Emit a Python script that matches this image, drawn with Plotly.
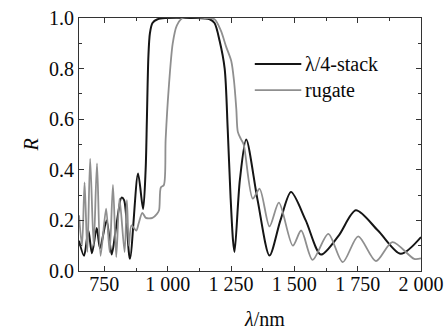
import plotly.graph_objects as go

# Reflectance spectra: quarter-wave stack vs. rugate filter
stack_wl = [650, 670, 687, 701, 720, 733, 759, 779, 796, 818, 828, 851, 883, 903,
            913, 918, 924, 930, 940, 960, 990, 1100, 1166, 1185, 1205, 1225, 1237,
            1248, 1258, 1264, 1285, 1310, 1355, 1402, 1445, 1487, 1545, 1605,
            1675, 1743, 1830, 1920, 2000]
stack_R = [0.12, 0.06, 0.16, 0.07, 0.17, 0.09, 0.20, 0.065, 0.17, 0.29, 0.28, 0.048,
           0.385, 0.245, 0.40, 0.60, 0.85, 0.94, 0.98, 0.995, 1.0, 1.0, 0.995, 0.98,
           0.91, 0.80, 0.56, 0.30, 0.12, 0.075, 0.36, 0.52, 0.28, 0.061, 0.20, 0.312,
           0.20, 0.065, 0.14, 0.24, 0.16, 0.068, 0.134]

rugate_wl = [650, 662, 672, 683, 694, 708, 721, 735, 757, 771, 784, 797, 810, 830,
             839, 847, 857, 876, 886, 900, 914, 940, 957, 966, 973, 985, 992, 1004,
             1020, 1036, 1059, 1150, 1185, 1210, 1231, 1251, 1262, 1271, 1277, 1290,
             1300, 1336, 1363, 1402, 1439, 1494, 1527, 1572, 1634, 1691, 1752, 1822,
             1887, 1973, 2000]
rugate_R = [0.22, 0.10, 0.35, 0.075, 0.444, 0.10, 0.425, 0.06, 0.246, 0.075, 0.34,
            0.055, 0.286, 0.075, 0.28, 0.10, 0.18, 0.16, 0.19, 0.23, 0.21, 0.21, 0.225,
            0.24, 0.33, 0.34, 0.52, 0.72, 0.90, 0.97, 1.0, 1.0, 0.995, 0.95, 0.886, 0.83,
            0.75, 0.64, 0.55, 0.52, 0.50, 0.286, 0.325, 0.176, 0.27, 0.10, 0.16, 0.044,
            0.147, 0.035, 0.137, 0.039, 0.114, 0.048, 0.05]

x_ticks = [750, 1000, 1250, 1500, 1750, 2000]
x_ticktext = ["750", "1 000", "1 250", "1 500", "1 750", "2 000"]
y_ticks = [0.0, 0.2, 0.4, 0.6, 0.8, 1.0]
y_ticktext = ["0.0", "0.2", "0.4", "0.6", "0.8", "1.0"]

series_names = ["\u03bb/4-stack", "rugate"]
series_colors = ["#151515", "#8f8f8f"]

FONT = "Liberation Serif"
AXIS_COLOR = "#333333"
TEXT_COLOR = "#0a0a0a"

fig = go.Figure()
fig.add_trace(go.Scatter(x=stack_wl, y=stack_R, mode="lines", name=series_names[0],
                         line=dict(color=series_colors[0], width=2, shape="spline",
                                   smoothing=0.8)))
fig.add_trace(go.Scatter(x=rugate_wl, y=rugate_R, mode="lines", name=series_names[1],
                         line=dict(color=series_colors[1], width=1.8, shape="spline",
                                   smoothing=0.8)))

axis_common = dict(
    showline=True, linecolor=AXIS_COLOR, linewidth=1, mirror="ticks",
    ticks="inside", ticklen=5, tickwidth=1, tickcolor=AXIS_COLOR,
    showgrid=False, zeroline=False, automargin=False,
    tickfont=dict(family=FONT, size=20, color=TEXT_COLOR),
)

fig.update_xaxes(range=[650, 2000], tickvals=x_ticks, ticktext=x_ticktext,
                 ticklabelstandoff=-5,
                 minor=dict(ticks="inside", ticklen=3, tickcolor=AXIS_COLOR, dtick=125,
                            tick0=625),
                 **axis_common)
fig.update_yaxes(range=[0, 1.0], tickvals=y_ticks, ticktext=y_ticktext,
                 title=dict(text="<i>R</i>", font=dict(family=FONT, size=20, color=TEXT_COLOR),
                            standoff=5),
                 minor=dict(ticks="inside", ticklen=3, tickcolor=AXIS_COLOR, dtick=0.1),
                 **axis_common)

# x-axis title
fig.add_annotation(text="<i>\u03bb</i>/nm", xref="paper", yref="paper", x=0.542, y=-0.188,
                   xanchor="center", yanchor="middle", showarrow=False,
                   font=dict(family=FONT, size=20, color=TEXT_COLOR))

# legend: line samples with labels
legend_rows = [0.818, 0.715]
for name, color, yrow, w in zip(series_names, series_colors, legend_rows, [2, 1.8]):
    fig.add_shape(type="line", xref="paper", yref="paper", x0=0.514, x1=0.65,
                  y0=yrow, y1=yrow, line=dict(color=color, width=w))
    fig.add_annotation(text=name, xref="paper", yref="paper", x=0.656, y=yrow,
                       xanchor="left", yanchor="middle", showarrow=False,
                       font=dict(family=FONT, size=20, color=TEXT_COLOR))

fig.update_layout(
    width=447, height=329,
    margin=dict(l=79, r=26, t=18, b=58),
    paper_bgcolor="white", plot_bgcolor="white",
    showlegend=False,
)

fig.write_html("out.html")
